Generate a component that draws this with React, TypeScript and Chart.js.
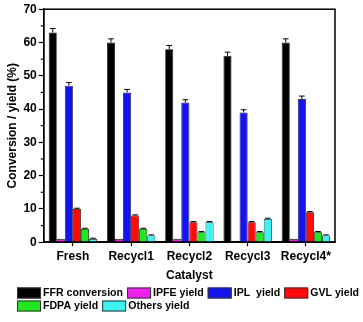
import React, { useEffect, useRef } from "react";
import { Chart, registerables } from "chart.js";

Chart.register(...registerables);

const categories = ["Fresh", "Recycl1", "Recycl2", "Recycl3", "Recycl4*"];
const seriesNames = ["FFR conversion", "IPFE yield", "IPL  yield", "GVL yield", "FDPA yield", "Others yield"];
const ffrConversion = [63, 60, 58, 56, 60];
const ipfeYield = [1, 1, 1, 0, 1];
const iplYield = [47, 45, 42, 39, 43];
const gvlYield = [10, 8, 6, 6, 9];
const fdpaYield = [4, 4, 3, 3, 3];
const othersYield = [1, 2, 6, 7, 2];
const ffrError = [1.2, 1.1, 1.1, 1.1, 1.1];
const ipfeError = [0, 0, 0, 0, 0];
const iplError = [1.0, 0.9, 0.8, 0.8, 0.9];
const gvlError = [0.2, 0.2, 0.2, 0.2, 0.2];
const fdpaError = [0.2, 0.2, 0.2, 0.2, 0.2];
const othersError = [0.2, 0.2, 0.2, 0.2, 0.2];
const colors = ["#000000", "#ee22ee", "#1414f0", "#ff0a0a", "#22e622", "#3ef2f2"];

const allValues = [ffrConversion, ipfeYield, iplYield, gvlYield, fdpaYield, othersYield];
const allErrors = [ffrError, ipfeError, iplError, gvlError, fdpaError, othersError];

const FONT = "Arial, 'Liberation Sans', sans-serif";

const framePlugin = {
  id: "frame",
  afterDraw(chart: any) {
    const { ctx, chartArea } = chart;
    ctx.save();
    ctx.strokeStyle = "#000";
    ctx.lineWidth = 1.5;
    ctx.strokeRect(chartArea.left, chartArea.top, chartArea.right - chartArea.left, chartArea.bottom - chartArea.top);
    const y = chart.scales.y;
    ctx.lineWidth = 1.2;
    for (let v = 5; v < 70; v += 10) {
      const py = y.getPixelForValue(v);
      ctx.beginPath();
      ctx.moveTo(chartArea.left - 3, py);
      ctx.lineTo(chartArea.left, py);
      ctx.stroke();
    }
    ctx.restore();
  },
};

const legendPlugin = {
  id: "customLegend",
  afterDraw(chart: any) {
    const { ctx } = chart;
    ctx.save();
    ctx.font = `bold 10.6px ${FONT}`;
    ctx.textBaseline = "middle";
    ctx.textAlign = "left";
    const startX = 17;
    const maxX = 361;
    const boxW = 24;
    const boxH = 11;
    const gap = 2;
    const itemGap = 4;
    let x = startX;
    let rowY = 293;
    seriesNames.forEach((name, i) => {
      const tw = ctx.measureText(name).width;
      const w = boxW + gap + tw;
      if (x + w > maxX && x > startX) {
        x = startX;
        rowY += 13;
      }
      ctx.fillStyle = colors[i];
      ctx.fillRect(x, rowY - boxH / 2, boxW, boxH);
      ctx.strokeStyle = "#333";
      ctx.lineWidth = 1;
      ctx.strokeRect(x + 0.5, rowY - boxH / 2 + 0.5, boxW - 1, boxH - 1);
      ctx.fillStyle = "#000";
      ctx.fillText(name, x + boxW + gap, rowY + 0.5);
      x += w + itemGap;
    });
    ctx.restore();
  },
};

const errorBarPlugin = {
  id: "errorBars",
  afterDatasetsDraw(chart: any) {
    const { ctx } = chart;
    const yScale = chart.scales.y;
    ctx.save();
    ctx.strokeStyle = "#000";
    ctx.lineWidth = 1;
    chart.data.datasets.forEach((ds: any, i: number) => {
      const meta = chart.getDatasetMeta(i);
      const errs = allErrors[i];
      meta.data.forEach((bar: any, j: number) => {
        const err = errs[j];
        if (!err) return;
        const val = ds.data[j];
        const x = bar.x;
        const yTop = yScale.getPixelForValue(val + err);
        const yVal = yScale.getPixelForValue(val);
        const half = bar.width * 0.35;
        ctx.beginPath();
        ctx.moveTo(x, yVal);
        ctx.lineTo(x, yTop);
        ctx.moveTo(x - half, yTop);
        ctx.lineTo(x + half, yTop);
        ctx.stroke();
      });
    });
    ctx.restore();
  },
};

export default function App() {
  const ref = useRef<HTMLCanvasElement>(null);
  useEffect(() => {
    document.body.style.margin = "0";
    const chart = new Chart(ref.current!, {
      type: "bar",
      data: {
        labels: categories,
        datasets: allValues.map((vals, i) => ({
          label: seriesNames[i],
          data: vals,
          backgroundColor: colors[i],
          borderColor: "#111",
          borderWidth: 0.8,
          barPercentage: 1,
          categoryPercentage: 0.83,
        })),
      },
      options: {
        animation: false,
        responsive: false,
        maintainAspectRatio: false,
        layout: { padding: { top: 8, right: 28, left: 5, bottom: 39 } },
        plugins: {
          tooltip: { enabled: false },
          legend: { display: false },
        },
        scales: {
          x: {
            grid: { drawOnChartArea: false, offset: false, color: "#000", tickLength: 4, tickWidth: 1.2 },
            border: { color: "#000", width: 1.5 },
            ticks: { color: "#000", padding: 3, font: { family: FONT, size: 12, weight: "bold" } },
            title: {
              display: true,
              text: "Catalyst",
              color: "#000",
              padding: { top: 2, bottom: 0 },
              font: { family: FONT, size: 12, weight: "bold" },
            },
          },
          y: {
            min: 0,
            max: 70,
            grid: { drawOnChartArea: false, color: "#000", tickLength: 5, tickWidth: 1.2 },
            border: { color: "#000", width: 1.5 },
            ticks: { stepSize: 10, color: "#000", padding: 2, font: { family: FONT, size: 12, weight: "bold" } },
            title: {
              display: true,
              text: "Conversion / yield (%)",
              color: "#000",
              padding: { top: 0, bottom: 2 },
              font: { family: FONT, size: 12, weight: "bold" },
            },
          },
        },
      },
      plugins: [framePlugin, errorBarPlugin, legendPlugin],
    } as any);
    return () => chart.destroy();
  }, []);
  return <canvas ref={ref} width={363} height={322} style={{ display: "block" }} />;
}
